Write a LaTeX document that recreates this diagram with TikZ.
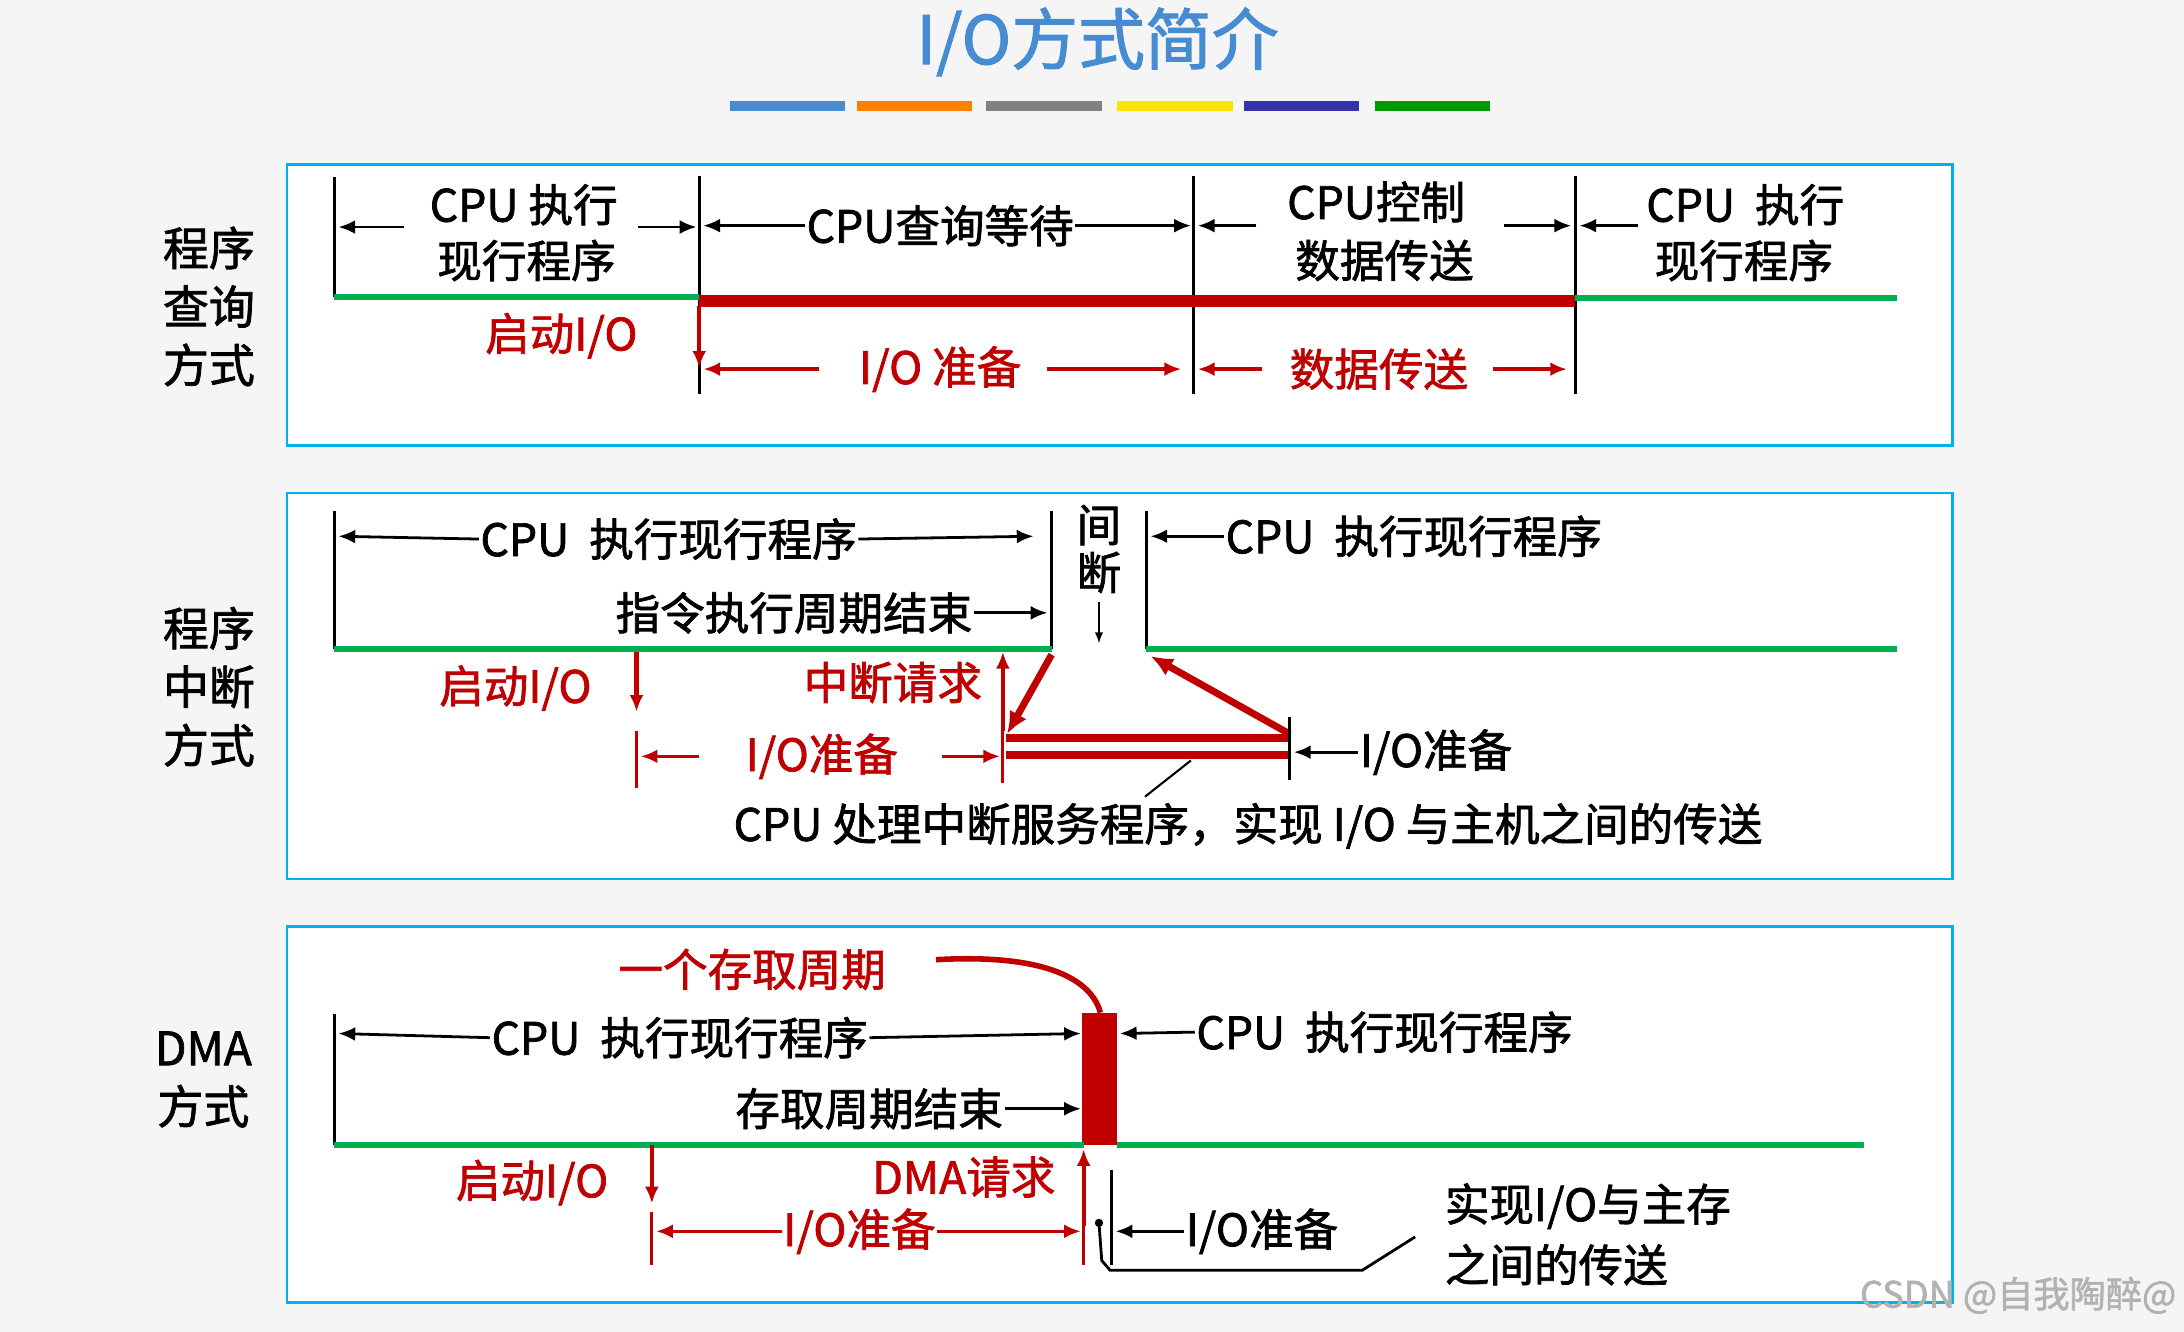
\documentclass[tikz,border=0pt]{standalone}
\usepackage{fontspec}
\setmainfont{Noto Sans CJK SC}[FakeBold=1.6]
\usetikzlibrary{arrows.meta}
\definecolor{frame}{RGB}{0,176,240}
\definecolor{dred}{RGB}{192,0,0}
\definecolor{gr}{RGB}{0,176,80}
\definecolor{ttl}{RGB}{70,140,210}
\tikzset{
 txt/.style={font=\fontsize{32}{36}\selectfont, inner sep=1pt},
 rtxt/.style={txt, text=dred},
 panel/.style={draw=frame, line width=2pt, fill=white},
 bar/.style={line width=4.5pt, gr},
 ar/.style={line width=2pt, -{Latex[length=12pt,width=10pt]}},
 rar/.style={ar, dred, line width=2.5pt},
 vl/.style={line width=2pt},
 rvl/.style={line width=2pt, dred},
 thick red/.style={line width=9pt, dred},
}
\begin{document}
\begin{tikzpicture}[x=1pt,y=-1pt]
\useasboundingbox[fill=white!96!black] (0,0) rectangle (1568,956);
% title
\node[font=\fontsize{48}{52}\selectfont, text=ttl] (title) at (788,30) {I/O方式简介};
\foreach \a/\c in {524/ttl,615/orange,708/gray,802/yellow!85!orange,893/blue!60!black!80,987/green!60!black} \draw[line width=7pt, \c] (\a,76) -- ++(83,0);
% panels
\draw[panel] (206,118) rectangle (1402,320);
\draw[panel] (206,354) rectangle (1402,631);
\draw[panel] (206,665) rectangle (1402,935);
\node[txt, align=center, font=\fontsize{33}{42}\selectfont] (l1) at (150,220) {程序\\查询\\方式};
\node[txt, align=center, font=\fontsize{33}{42}\selectfont] (l2) at (150,493) {程序\\中断\\方式};
\node[txt, align=center, font=\fontsize{33}{42}\selectfont] (l3) at (146,775) {DMA\\方式};

% ===== panel 1
\coordinate (a0) at (240,127); \coordinate (a1) at (502,126); \coordinate (a2) at (857,126); \coordinate (a3) at (1131,126);
\draw[vl] (a0) -- (240,213);
\draw[vl] (a1) -- (502,283);
\draw[vl] (a2) -- (857,283);
\draw[vl] (a3) -- (1131,283);
\draw[bar] (240,213) -- (502,213);
\draw[bar] (1131,214) -- (1362,214);
\draw[thick red] (502,216) -- (1131,216);
\node[txt] (p1a) at (376,147) {CPU 执行};
\node[txt] (p1b) at (378,187) {现行程序};
\draw[ar] (290,163) -- (243,163); \draw[ar] (458,163) -- (500,163);
\node[txt] (p1c) at (675,162) {CPU查询等待};
\draw[ar] (p1c.west) -- (505,162); \draw[ar] (p1c.east) -- (855,162);
\node[txt] (p1d) at (988,145) {CPU控制};
\node[txt] (p1e) at (994,187) {数据传送};
\draw[ar] (902,162) -- (860,162); \draw[ar] (1080,162) -- (1128,162);
\node[txt] (p1f) at (1253,147) {CPU\ \ 执行};
\node[txt] (p1g) at (1252,187) {现行程序};
\draw[ar] (1176,162) -- (1134,162);
\node[rtxt] (p1h) at (403,241) {启动I/O};
\draw[rar] (502,220) -- (502,264);
\node[rtxt] (p1i) at (675,265) {I/O 准备};
\draw[rar] (588,265) -- (505,265); \draw[rar] (752,265) -- (848,265);
\node[rtxt] (p1j) at (990,265) {数据传送};
\draw[rar] (906,265) -- (860,265); \draw[rar] (1072,265) -- (1125,265);

% ===== panel 2
\draw[vl] (240,367) -- (240,466);
\draw[vl] (755,367) -- (755,466);
\draw[vl] (823,367) -- (823,466);
\node[txt] (p2a) at (480,387) {CPU\ \ 执行现行程序};
\draw[ar] (p2a.west) -- (243,385); \draw[ar] (p2a.east) -- (742,385);
\node[txt] (p2b) at (789,377) {间};
\node[txt] (p2c) at (789,411) {断};
\draw[line width=1.3pt, -{Latex[length=8pt,width=6pt]}] (789,432) -- (789,462);
\node[txt] (p2d) at (1015,385) {CPU\ \ 执行现行程序};
\draw[ar] (p2d.west) -- (826,385);
\node[txt] (p2e) at (570,440) {指令执行周期结束};
\draw[ar] (p2e.east) -- (752,440);
\draw[bar] (240,466) -- (755,466);
\draw[bar] (823,466) -- (1362,466);
\node[rtxt] (p2f) at (370,494) {启动I/O};
\draw[rar, line width=3pt] (457,468) -- (457,511);
\node[rtxt] (p2g) at (641,490) {中断请求};
\draw[rar, line width=3pt] (720,525) -- (720,468);
\draw[line width=5pt, dred, -{Latex[length=16pt,width=14pt]}] (755,470) -- (723,527);
\draw[line width=5pt, dred, -{Latex[length=16pt,width=14pt]}] (926,527) -- (826,471);
\draw[line width=6pt, dred] (722,530) -- (926,530);
\draw[line width=6pt, dred] (722,542) -- (926,542);
\draw[rvl] (457,525) -- (457,566);
\draw[rvl] (720,525) -- (720,562);
\draw[vl] (926,515) -- (926,560);
\node[rtxt] (p2h) at (590,543) {I/O准备};
\draw[rar] (502,543) -- (460,543); \draw[rar] (676,543) -- (718,543);
\node[txt] (p2i) at (1031,540) {I/O准备};
\draw[ar] (p2i.west) -- (929,540);
\node[txt] (p2j) at (896,593) {CPU 处理中断服务程序，实现 I/O 与主机之间的传送};
\draw[line width=1.5pt] (855,546) -- (822,572);

% ===== panel 3
\draw[vl] (240,728) -- (240,822);
\node[rtxt] (p3a) at (540,696) {一个存取周期};
\draw[line width=4pt, dred] (672,689) .. controls (760,684) and (785,708) .. (790,727);
\fill[dred] (777,727) rectangle (802,822);
\node[txt] (p3b) at (488,745) {CPU\ \ 执行现行程序};
\draw[ar] (p3b.west) -- (243,742); \draw[ar] (p3b.east) -- (776,742);
\node[txt] (p3c) at (994,741) {CPU\ \ 执行现行程序};
\draw[ar] (p3c.west) -- (804,742);
\node[txt] (p3d) at (624,796) {存取周期结束};
\draw[ar] (p3d.east) -- (776,796);
\draw[bar] (240,822) -- (778,822);
\draw[bar] (802,822) -- (1338,822);
\node[rtxt] (p3e) at (382,849) {启动I/O};
\draw[rar, line width=3pt] (468,822) -- (468,864);
\node[rtxt] (p3f) at (692,845) {DMA请求};
\draw[rar, line width=3pt] (778,880) -- (778,825);
\draw[rvl] (468,870) -- (468,908);
\draw[rvl] (778,870) -- (778,908);
\node[rtxt] (p3g) at (617,884) {I/O准备};
\draw[rar] (p3g.west) -- (471,884); \draw[rar] (p3g.east) -- (776,884);
\draw[vl] (798,840) -- (798,908);
\fill (789,878) circle (3pt);
\draw[line width=2pt] (789,878) -- (791,905) -- (797,912) -- (978,912) -- (1016,888);
\node[txt] (p3h) at (906,884) {I/O准备};
\draw[ar] (p3h.west) -- (801,884);
\node[txt] (p3i) at (1140,866) {实现I/O与主存};
\node[txt, anchor=west] (p3j) at (p3i.west |- 0,908) {之间的传送};
\node[font=\fontsize{26}{28}\selectfont, text=gray!60, anchor=east] (wm) at (1566,930) {CSDN @自我陶醉@};
\end{tikzpicture}
\end{document}
